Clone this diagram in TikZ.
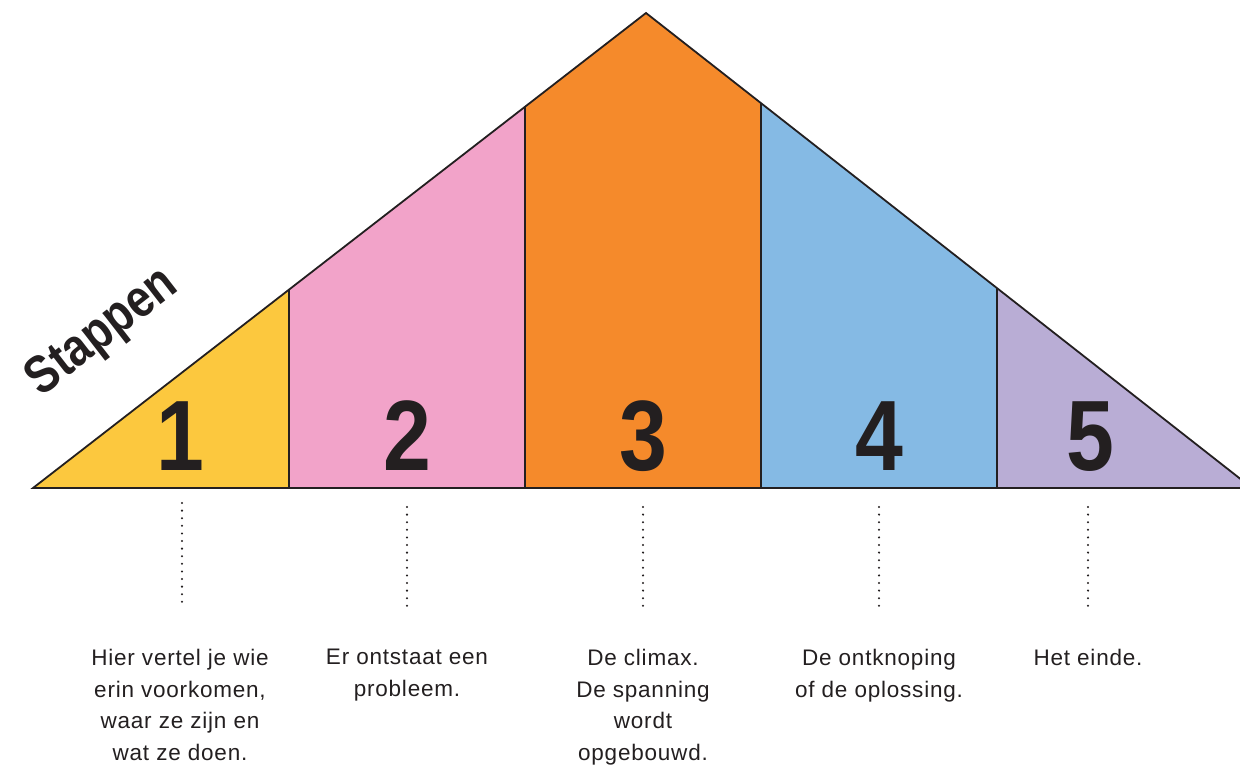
\documentclass[tikz,border=0pt]{standalone}
\usepackage{fontspec}
\setmainfont{Liberation Sans}
\definecolor{ink}{HTML}{231F20}
\definecolor{cyellow}{HTML}{FCC83E}
\definecolor{cpink}{HTML}{F2A3C9}
\definecolor{corange}{HTML}{F58A2B}
\definecolor{cblue}{HTML}{85BAE4}
\definecolor{cpurple}{HTML}{B9ADD5}
\begin{document}
\begin{tikzpicture}[x=1pt,y=-1pt,
  outline/.style={draw=ink,line width=1.8pt,line join=miter},
  dots/.style={draw=ink,line width=2.3pt,line cap=round,dash pattern=on 0pt off 7.6pt},
  num/.style={anchor=base,inner sep=0pt,text=ink,font=\fontsize{100}{100}\selectfont\bfseries},
  desc/.style={anchor=north,inner sep=0pt,align=center,text=ink,font=\fontsize{22.5}{31.5}\selectfont\addfontfeature{LetterSpace=3.5}}]
\useasboundingbox (0,0) rectangle (1240,768);
% corners
\coordinate (L) at (33,488);
\coordinate (A) at (646,13);
\coordinate (R) at (1252,488);
\coordinate (t1) at (289,290); \coordinate (b1) at (289,488);
\coordinate (t2) at (525,107); \coordinate (b2) at (525,488);
\coordinate (t3) at (761,103); \coordinate (b3) at (761,488);
\coordinate (t4) at (997,288); \coordinate (b4) at (997,488);
% fills
\fill[cyellow] (L) -- (t1) -- (b1) -- cycle;
\fill[cpink] (b1) -- (t1) -- (t2) -- (b2) -- cycle;
\fill[corange] (b2) -- (t2) -- (A) -- (t3) -- (b3) -- cycle;
\fill[cblue] (b3) -- (t3) -- (t4) -- (b4) -- cycle;
\fill[cpurple] (b4) -- (t4) -- (R) -- cycle;
% outlines
\draw[outline] (L) -- (A) -- (R) -- cycle;
\draw[outline] (t1) -- (b1) (t2) -- (b2) (t3) -- (b3) (t4) -- (b4);
% numbers
\node[num] (n1) at (180,470) {\scalebox{0.86}[1]{1}};
\node[num] (n2) at (407,470) {\scalebox{0.86}[1]{2}};
\node[num] (n3) at (643,470) {\scalebox{0.86}[1]{3}};
\node[num] (n4) at (879,470) {\scalebox{0.86}[1]{4}};
\node[num] (n5) at (1090,470) {\scalebox{0.86}[1]{5}};
% title
\node[inner sep=0pt,text=ink,rotate=37.8,font=\fontsize{53}{53}\selectfont\bfseries] (title) at (103,333) {\scalebox{0.84}[1]{Stappen}};
% dotted connectors
\coordinate (d1a) at (182,503); \coordinate (d1b) at (182,607);
\coordinate (d2a) at (407,507); \coordinate (d2b) at (407,611);
\coordinate (d3a) at (643,507); \coordinate (d3b) at (643,611);
\coordinate (d4a) at (879,507); \coordinate (d4b) at (879,611);
\coordinate (d5a) at (1088,507); \coordinate (d5b) at (1088,611);
\draw[dots] (d1a) -- (d1b);
\draw[dots] (d2a) -- (d2b);
\draw[dots] (d3a) -- (d3b);
\draw[dots] (d4a) -- (d4b);
\draw[dots] (d5a) -- (d5b);
% descriptions
\node[desc] (s1) at (180,649) {Hier vertel je wie\\erin voorkomen,\\waar ze zijn en\\wat ze doen.};
\node[desc] (s2) at (407,649) {Er ontstaat een\\probleem.};
\node[desc] (s3) at (643,649) {De climax.\\De spanning\\wordt\\opgebouwd.};
\node[desc] (s4) at (879,649) {De ontknoping\\of de oplossing.};
\node[desc] (s5) at (1088,649) {Het einde.};
\end{tikzpicture}
\end{document}
